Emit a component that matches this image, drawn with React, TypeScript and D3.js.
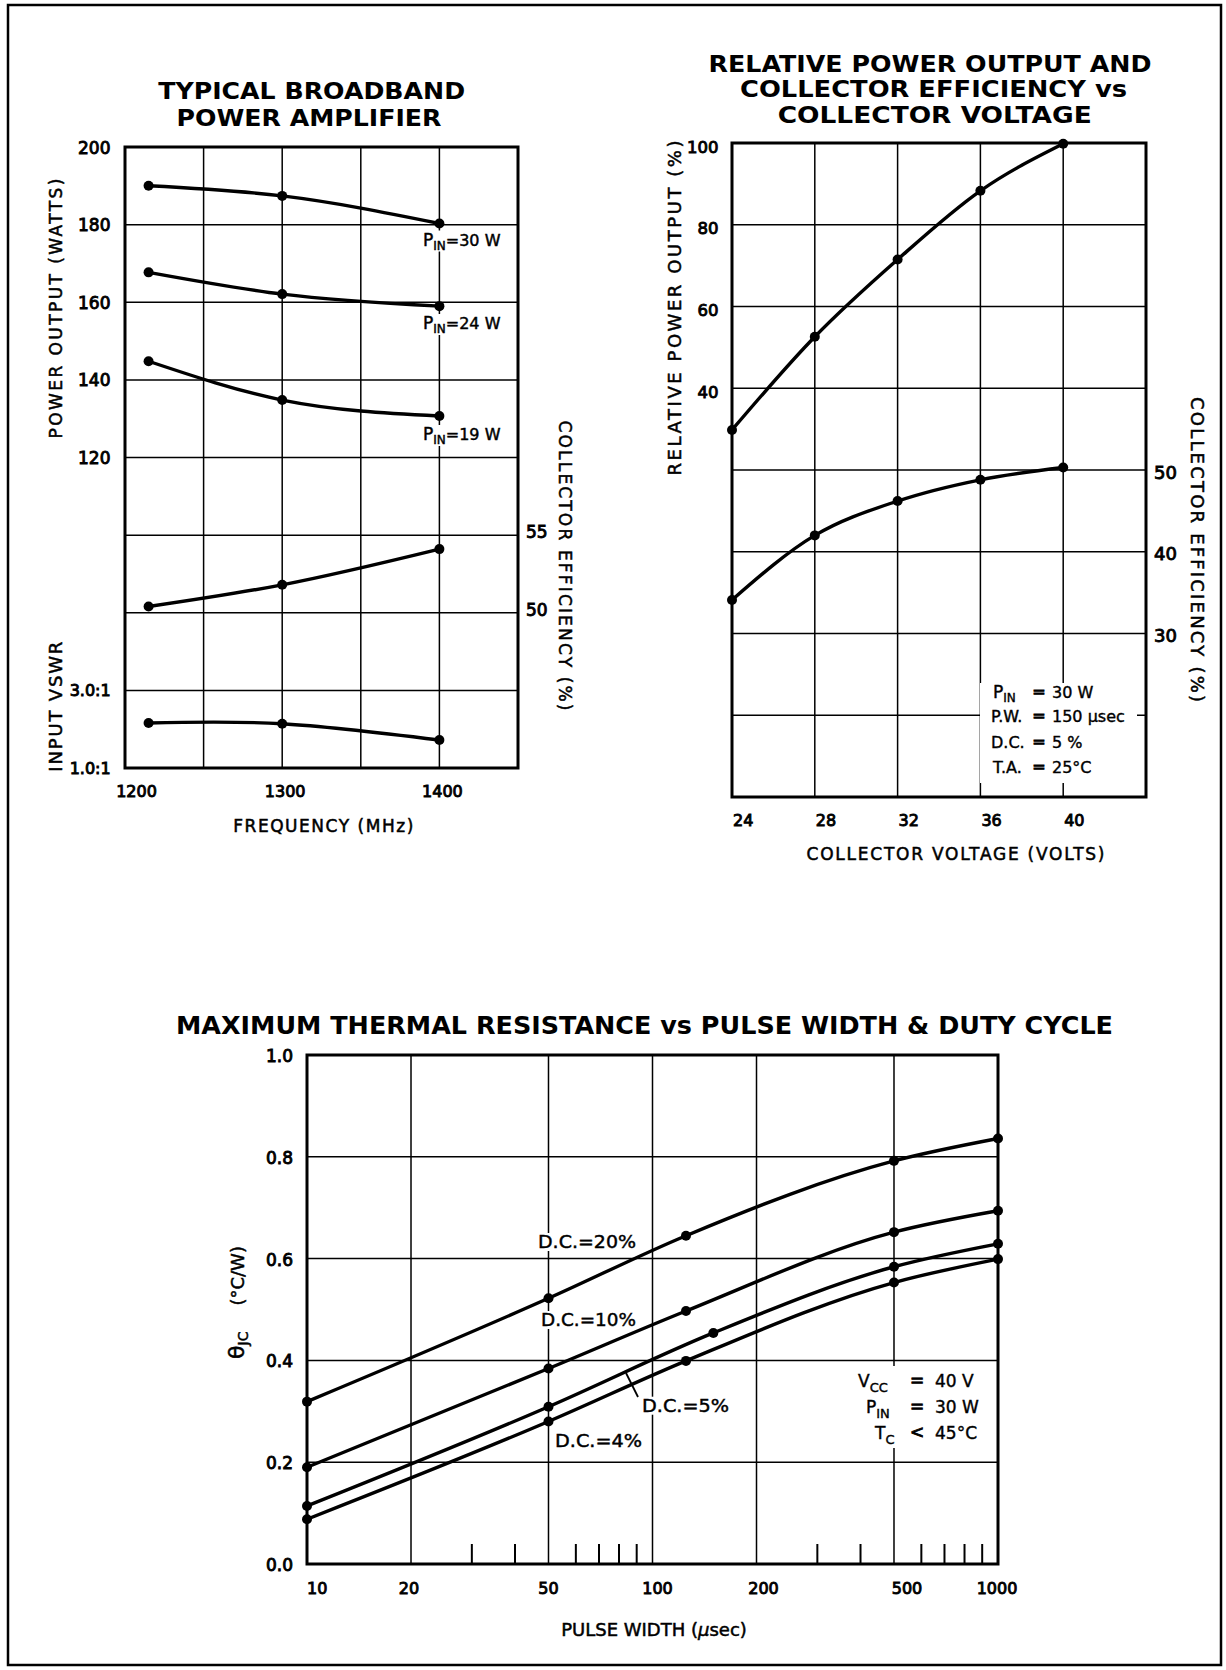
import React from "react";
import * as d3 from "d3";

const FONT = "'DejaVu Sans', 'Liberation Sans', Arial, sans-serif";

// ---------- Top-left: Typical broadband power amplifier ----------
const tlFreq = [1215, 1300, 1400];
const tlPin30 = [190.0, 187.4, 180.3];
const tlPin24 = [167.7, 162.1, 159.0];
const tlPin19 = [144.8, 134.8, 130.7];
const tlEff = [50.4, 51.8, 54.1];
const tlVswr = [2.16, 2.14, 1.72];
const tlFreqTicks = [1200, 1300, 1400];
const tlPowerTicks = [200, 180, 160, 140, 120];
const tlEffTicks = [55, 50];
const tlVswrTicks = [3, 1];
const tlVswrLabels = ["3.0:1", "1.0:1"];
const tlPinLabels = ["30 W", "24 W", "19 W"];

// ---------- Top-right: relative power output & efficiency vs voltage ----------
const trVolts = [24, 28, 32, 36, 40];
const trPower = [29.8, 52.6, 71.5, 88.3, 99.8];
const trEff = [34.1, 42.0, 46.2, 48.8, 50.3];
const trVoltTicks = [24, 28, 32, 36, 40];
const trPowerTicks = [100, 80, 60, 40];
const trEffTicks = [50, 40, 30];
const trInfoNames = ["P.W.", "D.C.", "T.A."];
const trInfoValues = ["30 W", "150 μsec", "5 %", "25°C"];

// ---------- Bottom: thermal resistance vs pulse width ----------
const bPw = [10, 50, 125, 500, 1000];
const bPw5 = [10, 50, 150, 500, 1000];
const bDc20 = [0.319, 0.522, 0.645, 0.792, 0.836];
const bDc10 = [0.19, 0.384, 0.497, 0.652, 0.694];
const bDc5 = [0.114, 0.309, 0.454, 0.584, 0.629];
const bDc4 = [0.088, 0.28, 0.399, 0.553, 0.599];
const bPwTicks = [10, 20, 50, 100, 200, 500, 1000];
const bMinorTicks = [30, 40, 60, 70, 80, 90, 300, 400, 600, 700, 800, 900];
const bThetaTicks = [0, 0.2, 0.4, 0.6, 0.8, 1.0];
const bDcLabels = ["D.C.=20%", "D.C.=10%", "D.C.=5%", "D.C.=4%"];
const bInfoValues = ["40 V", "30 W", "45°C"];

type Pt = [number, number];

type TP = {
  x: number;
  y: number;
  size?: number;
  bold?: boolean;
  anchor?: "start" | "middle" | "end";
  len?: number;
  adj?: "spacing" | "spacingAndGlyphs";
  rot?: number;
  thick?: number;
  children: React.ReactNode;
};
function T({ x, y, size = 16, bold = false, anchor = "start", len, adj = "spacingAndGlyphs", rot = 0, thick = 0, children }: TP) {
  const tr = rot ? `translate(${x},${y}) rotate(${rot})` : undefined;
  return (
    <text
      x={rot ? 0 : x}
      y={rot ? 0 : y}
      transform={tr}
      fontFamily={FONT}
      fontSize={size}
      fontWeight={bold ? "bold" : "normal"}
      textAnchor={anchor}
      textLength={len}
      lengthAdjust={len ? adj : undefined}
      fill="#000"
      stroke={thick ? "#000" : "none"}
      strokeWidth={thick}
    >
      {children}
    </text>
  );
}

const GRID = 1.5;
const FRAME = 3;
const CURVE = 3.4;
const DOT = 5;
const TICK_W = 0.9;
const TITLE_W = 0.5;

function Curve({ pts, curve }: { pts: Pt[]; curve: d3.CurveFactory }) {
  const gen = d3.line<Pt>().curve(curve);
  return (
    <g>
      <path d={gen(pts) || ""} fill="none" stroke="#000" strokeWidth={CURVE} strokeLinejoin="round" strokeLinecap="round" />
      {pts.map((p, i) => (
        <circle key={i} cx={p[0]} cy={p[1]} r={DOT} fill="#000" />
      ))}
    </g>
  );
}

function TopLeft() {
  const L = 125, R = 518, Tp = 147, B = 768;
  const x = d3.scaleLinear().domain([1200, 1450]).range([L, R]);
  const row = d3.scaleLinear().domain([0, 8]).range([Tp, B]);
  const yP = d3.scaleLinear().domain([120, 200]).range([row(4), row(0)]);
  const yE = d3.scaleLinear().domain([50, 55]).range([row(6), row(5)]);
  const yV = d3.scaleLinear().domain([1, 3]).range([row(8), row(7)]);
  const mk = (ys: number[], sc: d3.ScaleLinear<number, number>): Pt[] => tlFreq.map((f, i) => [x(f), sc(ys[i])]);
  const pinSeries = [tlPin30, tlPin24, tlPin19];
  const pinLabelY = [245.5, 329, 440];
  const tickNudge = [11.5, 3, 3];
  return (
    <g>
      <T x={311.7} y={99.3} size={23} bold anchor="middle" len={307}>TYPICAL BROADBAND</T>
      <T x={309} y={126} size={23} bold anchor="middle" len={265}>POWER AMPLIFIER</T>
      {d3.range(1250, 1450, 50).map((f) => (
        <line key={f} x1={x(f)} x2={x(f)} y1={Tp} y2={B} stroke="#000" strokeWidth={GRID} />
      ))}
      {d3.range(1, 8).map((r) => (
        <line key={r} x1={L} x2={R} y1={row(r)} y2={row(r)} stroke="#000" strokeWidth={GRID} />
      ))}
      <rect x={L} y={Tp} width={R - L} height={B - Tp} fill="none" stroke="#000" strokeWidth={FRAME} />
      {pinSeries.map((s, i) => (
        <g key={i}>
          <rect x={419} y={pinLabelY[i] - 15} width={92} height={21} fill="#fff" />
          <text x={423} y={pinLabelY[i]} fontFamily={FONT} fontSize={16} stroke="#000" strokeWidth={0.45}>
            <tspan fontSize={17}>P</tspan>
            <tspan fontSize={12} dy={4}>IN</tspan>
            <tspan dy={-4}>{"=" + tlPinLabels[i]}</tspan>
          </text>
          <Curve pts={mk(s, yP)} curve={d3.curveMonotoneX} />
        </g>
      ))}
      <Curve pts={mk(tlEff, yE)} curve={d3.curveMonotoneX} />
      <Curve pts={mk(tlVswr, yV)} curve={d3.curveNatural} />
      {tlPowerTicks.map((v) => (
        <T key={v} x={110.5} y={yP(v) + 6.5} size={17} anchor="end" thick={TICK_W}>{v}</T>
      ))}
      {tlVswrTicks.map((v, i) => (
        <T key={v} x={110.7} y={yV(v) + 6} size={16} anchor="end" thick={TICK_W}>{tlVswrLabels[i]}</T>
      ))}
      {tlEffTicks.map((v) => (
        <T key={v} x={526} y={yE(v) + 3} size={17} thick={TICK_W}>{v}</T>
      ))}
      {tlFreqTicks.map((f, i) => (
        <T key={f} x={x(f) + tickNudge[i]} y={796.7} size={16} anchor="middle" thick={TICK_W}>{f}</T>
      ))}
      <T x={323.3} y={831.7} size={17} anchor="middle" len={180} adj="spacing" thick={TITLE_W}>FREQUENCY (MHz)</T>
      <T x={61.5} y={308.5} size={17} anchor="middle" rot={-90} len={260} adj="spacing" thick={TITLE_W}>POWER OUTPUT (WATTS)</T>
      <T x={61.5} y={706.7} size={18} anchor="middle" rot={-90} len={130} adj="spacing" thick={TITLE_W}>INPUT VSWR</T>
      <T x={559} y={565.5} size={17} anchor="middle" rot={90} len={290} adj="spacing" thick={TITLE_W}>COLLECTOR EFFICIENCY (%)</T>
    </g>
  );
}

function TopRight() {
  const L = 732, R = 1146, Tp = 143, B = 797;
  const x = d3.scaleLinear().domain([24, 44]).range([L, R]);
  const row = d3.scaleLinear().domain([0, 8]).range([Tp, B]);
  const yP = d3.scaleLinear().domain([40, 100]).range([row(3), row(0)]);
  const yE = d3.scaleLinear().domain([30, 50]).range([row(6), row(4)]);
  const mk = (ys: number[], sc: d3.ScaleLinear<number, number>): Pt[] => trVolts.map((v, i) => [x(v), sc(ys[i])]);
  const infoY = [698.3, 721.7, 748.3, 773.3];
  return (
    <g>
      <T x={930} y={71.7} size={23} bold anchor="middle" len={443}>RELATIVE POWER OUTPUT AND</T>
      <T x={933.5} y={97.3} size={23} bold anchor="middle" len={387}>COLLECTOR EFFICIENCY vs</T>
      <T x={934.7} y={122.7} size={23} bold anchor="middle" len={314}>COLLECTOR VOLTAGE</T>
      {d3.range(28, 44, 4).map((v) => (
        <line key={v} x1={x(v)} x2={x(v)} y1={Tp} y2={B} stroke="#000" strokeWidth={GRID} />
      ))}
      {d3.range(1, 8).map((r) => (
        <line key={r} x1={L} x2={R} y1={row(r)} y2={row(r)} stroke="#000" strokeWidth={GRID} />
      ))}
      <rect x={980} y={683} width={157} height={100} fill="#fff" />
      <rect x={L} y={Tp} width={R - L} height={B - Tp} fill="none" stroke="#000" strokeWidth={FRAME} />
      <Curve pts={mk(trPower, yP)} curve={d3.curveMonotoneX} />
      <Curve pts={mk(trEff, yE)} curve={d3.curveMonotoneX} />
      {infoY.map((yy, i) => (
        <g key={i}>
          {i === 0 ? (
            <text x={993} y={yy} fontFamily={FONT} fontSize={16} stroke="#000" strokeWidth={0.4}>
              <tspan fontSize={17}>P</tspan>
              <tspan fontSize={12} dy={4}>IN</tspan>
            </text>
          ) : (
            <T x={i === 3 ? 993 : 991} y={yy} size={16} thick={0.4}>{trInfoNames[i - 1]}</T>
          )}
          <T x={1039} y={yy - 1} size={16} anchor="middle" thick={0.9}>=</T>
          <T x={1052} y={yy} size={16} thick={0.4}>{trInfoValues[i]}</T>
        </g>
      ))}
      {trPowerTicks.map((v) => (
        <T key={v} x={718.6} y={yP(v) + 3.5 + 6} size={16.5} anchor="end" thick={TICK_W}>{v}</T>
      ))}
      {trEffTicks.map((v) => (
        <T key={v} x={1154} y={yE(v) + 2 + 6.5} size={18} thick={TICK_W}>{v}</T>
      ))}
      {trVoltTicks.map((v) => (
        <T key={v} x={x(v) + 1} y={825.6} size={16} thick={TICK_W}>{v}</T>
      ))}
      <T x={955.5} y={859.7} size={17} anchor="middle" len={298} adj="spacing" thick={TITLE_W}>COLLECTOR VOLTAGE (VOLTS)</T>
      <T x={681} y={308} size={18} anchor="middle" rot={-90} len={335} adj="spacing" thick={TITLE_W}>RELATIVE POWER OUTPUT (%)</T>
      <T x={1191} y={549.5} size={18} anchor="middle" rot={90} len={305} adj="spacing" thick={TITLE_W}>COLLECTOR EFFICIENCY (%)</T>
    </g>
  );
}

function Bottom() {
  const L = 307, R = 998, Tp = 1055, B = 1564;
  const x = d3.scaleLog().domain([10, 1000]).range([L, R]);
  const y = d3.scaleLinear().domain([0, 1]).range([B, Tp]);
  const mk = (xs: number[], ys: number[]): Pt[] => xs.map((v, i) => [x(v), y(ys[i])]);
  const series: [number[], number[]][] = [
    [bPw, bDc20],
    [bPw, bDc10],
    [bPw5, bDc5],
    [bPw, bDc4],
  ];
  const lab = [
    { x: 538, y: 1248, w: 98 },
    { x: 541, y: 1326, w: 95 },
    { x: 642, y: 1411.7, w: 87 },
    { x: 555, y: 1447.3, w: 87 },
  ];
  const nudge: Record<number, number> = { 20: -2, 100: 5, 200: 7, 500: 13, 1000: -1 };
  const infoY = [1386.7, 1413.3, 1439];
  return (
    <g>
      <T x={644.5} y={1034.3} size={25} bold anchor="middle" len={937}>MAXIMUM THERMAL RESISTANCE vs PULSE WIDTH &amp; DUTY CYCLE</T>
      {[20, 50, 100, 200, 500].map((v) => (
        <line key={v} x1={x(v)} x2={x(v)} y1={Tp} y2={B} stroke="#000" strokeWidth={GRID} />
      ))}
      {[0.2, 0.4, 0.6, 0.8].map((v) => (
        <line key={v} x1={L} x2={R} y1={y(v)} y2={y(v)} stroke="#000" strokeWidth={GRID} />
      ))}
      {bMinorTicks.map((v) => (
        <line key={v} x1={x(v)} x2={x(v)} y1={B - 20} y2={B} stroke="#000" strokeWidth={2} />
      ))}
      <rect x={852} y={1366} width={138} height={82} fill="#fff" />
      {lab.map((l, i) => (
        <rect key={i} x={l.x - 2} y={l.y - 15} width={l.w + 4} height={18} fill="#fff" />
      ))}
      <rect x={L} y={Tp} width={R - L} height={B - Tp} fill="none" stroke="#000" strokeWidth={FRAME} />
      {series.map(([xs, ys], i) => (
        <Curve key={i} pts={mk(xs, ys)} curve={d3.curveMonotoneX} />
      ))}
      {lab.map((l, i) => (
        <T key={i} x={l.x} y={l.y} size={18} len={l.w} thick={0.45}>{bDcLabels[i]}</T>
      ))}
      <line x1={626} y1={1373} x2={638} y2={1397} stroke="#000" strokeWidth={1.8} />
      {infoY.map((yy, i) => (
        <g key={i}>
          <text x={[858, 866, 875][i]} y={yy} fontFamily={FONT} fontSize={17} stroke="#000" strokeWidth={0.4}>
            <tspan>{["V", "P", "T"][i]}</tspan>
            <tspan fontSize={13} dy={5}>{["CC", "IN", "C"][i]}</tspan>
          </text>
          <T x={917} y={yy - 1} size={17} anchor="middle" thick={0.9}>{i === 2 ? "<" : "="}</T>
          <T x={935} y={yy} size={17} thick={0.4}>{bInfoValues[i]}</T>
        </g>
      ))}
      {bThetaTicks.map((v) => (
        <T key={v} x={293} y={y(v) + 1 + 6} size={17} anchor="end" thick={TICK_W}>{v.toFixed(1)}</T>
      ))}
      {bPwTicks.map((v) => (
        <T key={v} x={v === 10 ? L : x(v) + (nudge[v] || 0)} y={1594} size={16} anchor={v === 10 ? "start" : "middle"} thick={TICK_W}>{v}</T>
      ))}
      <text x={654} y={1636} fontFamily={FONT} fontSize={18} textAnchor="middle" stroke="#000" strokeWidth={TITLE_W}>
        PULSE WIDTH (<tspan fontStyle="italic">μ</tspan>sec)
      </text>
      <text transform="translate(244,1302.5) rotate(-90)" fontFamily={FONT} fontSize={18} textAnchor="middle" stroke="#000" strokeWidth={TITLE_W}>
        <tspan fontSize={22}>θ</tspan>
        <tspan fontSize={14} dy={4}>JC</tspan>
        <tspan dy={-4} dx={26}>(°C/W)</tspan>
      </text>
    </g>
  );
}

export default function App() {
  return (
    <svg
      width={1226}
      height={1670}
      viewBox="0 0 1226 1670"
      style={{ position: "absolute", left: 0, top: 0, background: "#fff", display: "block" }}
    >
      <rect x={0} y={0} width={1226} height={1670} fill="#fff" />
      <rect x={8} y={5} width={1213} height={1660} fill="none" stroke="#000" strokeWidth={2.5} />
      <TopLeft />
      <TopRight />
      <Bottom />
    </svg>
  );
}
